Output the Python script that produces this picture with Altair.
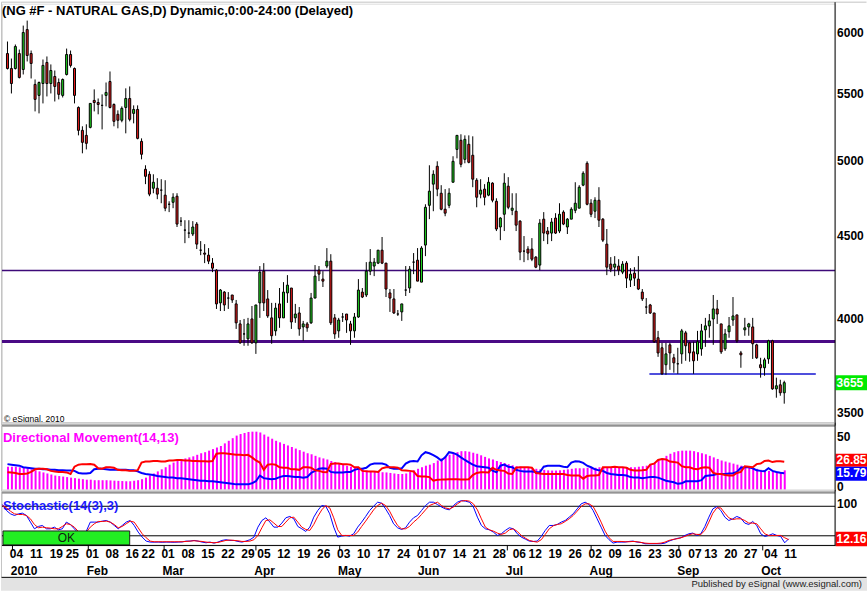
import altair as alt
import pandas as pd

FONT = "Liberation Sans"

# ---------------- data ----------------
# daily bars, bar 0 = 29 Dec 2009, bar 3 = 4 Jan 2010 ... bar 197 = 11 Oct 2010
opens = [
    5824, 5702, 5702, 5824, 5694, 6025, 5824, 5575, 5489, 5582,
    5751, 5582, 5638, 5590, 5489, 5654, 5816, 5702, 5396, 5224,
    5187, 5246, 5450, 5434, 5412, 5489, 5598, 5419, 5344, 5299,
    5396, 5465, 5351, 5381, 5143, 4944, 4909, 4813, 4813, 4800,
    4766, 4705, 4718, 4759, 4594, 4536, 4517, 4511, 4575, 4409,
    4391, 4378, 4329, 4286, 4092, 4155, 4120, 4138, 4086, 3972,
    3916, 3889, 4000, 3867, 4092, 4280, 4115, 4006, 3933, 4086,
    4006, 4150, 4179, 4006, 4034, 3955, 3972, 3978, 4120, 4286,
    4232, 4311, 4341, 4006, 3933, 4011, 4028, 3972, 3933, 4011,
    4155, 4138, 4280, 4311, 4329, 4409, 4329, 4150, 4115, 4028,
    4040, 4167, 4179, 4335, 4347, 4214, 4441, 4698, 4841, 4965,
    4779, 4672, 4698, 4854, 5085, 5151, 5014, 5122, 5043, 4868,
    4773, 4807, 4766, 4848, 4725, 4556, 4639, 4827, 4665, 4659,
    4594, 4403, 4416, 4416, 4366, 4317, 4607, 4530, 4517, 4614,
    4530, 4653, 4556, 4607, 4665, 4679, 4834, 4986, 4712, 4659,
    4732, 4607, 4447, 4323, 4304, 4311, 4274, 4329, 4226, 4268,
    4232, 4155, 4068, 4080, 4034, 3895, 3840, 3749, 3856, 3786,
    3754, 3807, 3922, 3867, 3818, 3807, 3834, 3939, 3961, 4000,
    4057, 3972, 3834, 3928, 3994, 4023, 3812, 3939, 3955, 3955,
    3856, 3749, 3733, 3780, 3878, 3623, 3644, 3603,
]
highs = [
    5924, 5783, 5899, 5857, 6059, 6102, 5849, 5614, 5598, 5775,
    5800, 5735, 5686, 5622, 5622, 5865, 5849, 5710, 5404, 5254,
    5269, 5427, 5536, 5465, 5497, 5590, 5678, 5427, 5374, 5404,
    5544, 5559, 5412, 5412, 5165, 4972, 4930, 4909, 4882, 4875,
    4868, 4725, 4779, 4779, 4620, 4600, 4600, 4594, 4588, 4466,
    4447, 4422, 4360, 4292, 4173, 4161, 4155, 4138, 4109, 3994,
    4000, 4006, 4074, 4080, 4311, 4329, 4167, 4092, 4092, 4179,
    4214, 4256, 4179, 4086, 4068, 3989, 3983, 4150, 4317, 4311,
    4280, 4422, 4384, 4028, 4006, 4034, 4028, 3989, 4034, 4232,
    4179, 4335, 4416, 4360, 4409, 4492, 4329, 4173, 4173, 4051,
    4086, 4311, 4311, 4391, 4422, 4434, 4705, 4972, 4937, 5000,
    4834, 4807, 4813, 5036, 5187, 5195, 5187, 5187, 5180, 4882,
    4875, 4841, 4889, 4854, 4745, 4620, 4916, 4889, 4779, 4779,
    4600, 4498, 4434, 4485, 4372, 4607, 4653, 4556, 4614, 4646,
    4712, 4665, 4614, 4685, 4854, 4834, 4930, 5000, 4739, 4752,
    4820, 4614, 4543, 4366, 4372, 4353, 4341, 4341, 4298, 4304,
    4372, 4173, 4120, 4086, 4034, 3933, 3867, 3867, 3867, 3807,
    3840, 3944, 3933, 3873, 3873, 3933, 3972, 4006, 4028, 4138,
    4109, 3972, 3944, 4011, 4126, 4023, 3823, 4006, 3978, 4006,
    3862, 3786, 3786, 3884, 3884, 3681, 3670, 3665,
]
lows = [
    5694, 5504, 5694, 5622, 5654, 5759, 5622, 5366, 5351, 5427,
    5481, 5504, 5442, 5458, 5473, 5646, 5710, 5427, 5187, 5057,
    5085, 5239, 5366, 5344, 5231, 5404, 5389, 5254, 5239, 5284,
    5202, 5291, 5276, 5158, 5014, 4841, 4759, 4779, 4739, 4712,
    4659, 4653, 4679, 4556, 4562, 4453, 4485, 4498, 4416, 4378,
    4329, 4323, 4274, 4057, 4045, 4045, 4057, 4092, 3944, 3862,
    3851, 3851, 3862, 3807, 4006, 4045, 4006, 3862, 3906, 3950,
    4006, 4092, 3944, 3978, 3906, 3878, 3928, 3972, 4120, 4220,
    4185, 4298, 3966, 3889, 3895, 3983, 3922, 3856, 3895, 4006,
    4120, 4126, 4256, 4250, 4323, 4323, 4126, 4040, 4028, 4017,
    3989, 4132, 4150, 4262, 4220, 4214, 4372, 4607, 4659, 4759,
    4665, 4626, 4679, 4854, 5021, 4958, 4986, 4986, 4820, 4685,
    4745, 4698, 4759, 4718, 4530, 4472, 4530, 4672, 4633, 4530,
    4347, 4335, 4347, 4341, 4298, 4286, 4466, 4447, 4466, 4511,
    4517, 4568, 4511, 4607, 4646, 4679, 4827, 4698, 4620, 4614,
    4556, 4460, 4256, 4274, 4250, 4256, 4262, 4179, 4185, 4191,
    4167, 4103, 4028, 4028, 3867, 3791, 3696, 3696, 3722, 3707,
    3701, 3754, 3770, 3765, 3701, 3770, 3797, 3845, 3895, 3856,
    3972, 3807, 3823, 3895, 3961, 3867, 3733, 3906, 3906, 3780,
    3780, 3681, 3691, 3754, 3618, 3578, 3588, 3548,
]
closes = [
    5702, 5582, 5882, 5630, 6000, 5808, 5743, 5458, 5590, 5727,
    5582, 5686, 5559, 5497, 5614, 5816, 5727, 5489, 5224, 5136,
    5129, 5427, 5434, 5419, 5412, 5512, 5396, 5291, 5299, 5389,
    5465, 5306, 5381, 5165, 5050, 4895, 4773, 4854, 4773, 4800,
    4679, 4705, 4752, 4575, 4594, 4536, 4517, 4556, 4447, 4409,
    4384, 4341, 4298, 4086, 4167, 4080, 4120, 4109, 3978, 3867,
    3916, 3972, 3867, 4080, 4274, 4092, 4017, 3906, 4062, 4006,
    4155, 4196, 3983, 4028, 3944, 3972, 3950, 4120, 4250, 4262,
    4220, 4341, 3978, 3916, 3994, 4011, 3994, 3933, 4011, 4167,
    4126, 4280, 4335, 4335, 4409, 4329, 4173, 4120, 4034, 4028,
    4086, 4167, 4292, 4335, 4220, 4422, 4685, 4793, 4909, 4807,
    4672, 4646, 4779, 5000, 5187, 4979, 5158, 4993, 4875, 4752,
    4800, 4752, 4854, 4732, 4543, 4614, 4848, 4685, 4679, 4568,
    4397, 4403, 4391, 4353, 4304, 4581, 4517, 4511, 4588, 4517,
    4639, 4575, 4607, 4672, 4712, 4820, 4916, 4705, 4639, 4732,
    4600, 4472, 4304, 4292, 4323, 4286, 4323, 4238, 4262, 4238,
    4173, 4115, 4068, 4034, 3873, 3812, 3701, 3807, 3812, 3759,
    3754, 3933, 3851, 3812, 3770, 3873, 3933, 3961, 3989, 4057,
    4028, 3818, 3916, 3961, 4017, 3878, 3802, 3950, 3972, 3862,
    3786, 3733, 3775, 3878, 3623, 3639, 3603, 3655,
]

plus_di = [
    24.5, 24, 23.5, 23, 21.5, 21, 20.5, 20, 20, 19.5,
    19.5, 19, 19, 18.5, 18.5, 18.3, 18.3, 18, 16, 15.5,
    15.5, 16, 19.5, 20, 20, 19.5, 19, 19, 19, 19,
    19, 18.5, 18.5, 17.5, 16, 15, 14.5, 14, 13, 12.5,
    12, 11.5, 11.5, 11, 11, 10.5, 10, 9.5, 9, 8.5,
    8.5, 8, 8, 7.5, 7, 6.5, 6, 5.5, 5, 5,
    5, 5, 6, 8, 13.5, 11, 10.5, 10, 10.5, 12,
    13, 13, 12.5, 12, 12, 11.5, 12, 16, 18, 20,
    20.5, 20, 17, 16.5, 16.5, 16.5, 17, 17, 19, 20,
    20, 21, 24, 25, 25, 25, 24, 21, 20, 20,
    20.5, 25, 27, 27.5, 27, 33, 36, 35, 33.2, 31,
    28, 31, 36, 35.3, 33.7, 31, 28.5, 26.3, 24, 22.5,
    22, 21.5, 21, 18.3, 16.7, 23, 24, 22, 21.5, 19,
    18, 17.5, 17.5, 17.5, 17, 16.7, 22, 23, 23, 23,
    23, 22, 21.5, 26, 27.3, 27, 25.7, 23, 21.5, 19.5,
    18.5, 18, 16, 15, 14.5, 14, 14, 13.5, 12, 11.5,
    11.5, 11, 11.5, 12, 12, 11.5, 10, 8.5, 7.7, 7,
    5.5, 6, 8, 8, 8, 8, 9, 13, 13.5, 14,
    15, 15, 15, 15.5, 15.7, 17, 21, 21.5, 21.5, 20.5,
    18.5, 18, 17.6, 20.5, 18, 17, 16.3, 15.79,
]
minus_di = [
    16.7, 16.5, 16, 15, 15, 15.5, 17, 19.5, 20, 20,
    19.5, 18, 17.5, 17, 17, 16.5, 15, 22, 24, 24.5,
    24.5, 24.7, 24, 20.5, 20, 21.5, 21.5, 21, 19, 18.5,
    18.5, 18, 18, 18.5, 26, 27, 27, 27.5, 27.5, 27,
    27, 28, 28, 28.5, 28.5, 28, 28, 27.5, 27.5, 27.3,
    27.3, 27, 27.5, 34.5, 35, 35, 34.5, 34, 33.5, 33.5,
    33, 33.5, 31, 28, 26, 19, 24, 24.5, 24, 21.5,
    21, 21, 19.5, 19.5, 19, 21.5, 21.5, 21, 18.5, 18,
    17, 16.7, 24.7, 25, 25, 24.5, 24.5, 24, 21.5, 21.5,
    18, 17.6, 17.5, 17.5, 17, 20.5, 21.5, 21.5, 21.5, 21,
    18.5, 18.3, 18, 17.5, 13, 12.5, 12.5, 12, 8.5, 9.5,
    9.6, 9.8, 10, 10, 10, 9.8, 9.6, 10, 14, 16,
    16.7, 16.7, 16.5, 21, 19, 18.3, 18, 15.5, 15, 21,
    21.5, 21.5, 21.5, 21, 16, 15.5, 15, 15, 15, 15,
    15, 15, 14, 13.5, 13.5, 13.5, 10.5, 13, 13.5, 13.5,
    14, 21.5, 21.5, 21.5, 22, 21.5, 21.5, 21, 19, 18.3,
    18.3, 18.5, 19, 24, 25, 28.5, 29.5, 29, 27, 26.5,
    26, 22.5, 21.5, 21.5, 20, 19.5, 21, 21.5, 21, 16,
    15, 15, 14, 13.5, 13.5, 16, 17, 22.5, 22, 21.5,
    24.5, 25, 27.5, 28, 26.5, 27.3, 27.3, 26.85,
]
adx = [
    22, 22, 22, 21.5, 21, 20.5, 19.5, 18.5, 17.5, 16.5,
    15.5, 14.5, 13.5, 13, 12.5, 12, 11.5, 11, 10.5, 10,
    9.5, 9.5, 9, 9, 9, 9, 8.8, 8.6, 8.4, 8.2,
    8, 8, 8.5, 9, 10, 11.5, 13.5, 15.5, 17.5, 19.5,
    21.5, 24, 26, 27.5, 29, 30, 31, 32, 33.5, 35,
    36, 37.5, 39, 40.5, 42, 44.5, 47, 49.5, 52, 53.5,
    54.5, 55.5, 55.8, 55.8, 55, 53, 51, 49, 47, 45.5,
    44, 42.5, 41, 39.5, 38, 36.5, 35, 34, 32.5, 31,
    30, 29, 27.5, 26.5, 25.5, 24.5, 23, 22, 21, 20,
    19.5, 18.5, 18, 17.5, 17, 16.7, 16.5, 16, 15.5, 15,
    15, 15.5, 17, 18.5, 20, 21.5, 23, 24, 25.5, 28,
    30, 32, 33.5, 35, 36, 37, 37, 36.5, 35.5, 34.5,
    33, 31.5, 30, 29, 27.5, 26.5, 25.5, 24.5, 23.5, 22.5,
    22, 21.5, 21, 20.5, 20, 19.5, 19, 18.5, 18.3, 18.3,
    18.5, 19, 19.5, 20, 20.5, 20.5, 20.5, 21, 21, 21,
    21.5, 21.5, 21.5, 21.5, 21.5, 21.5, 21.5, 21.5, 21.5, 21.5,
    22, 22.5, 23, 24, 26, 28, 30, 32.5, 34.5, 36,
    37, 37.5, 37.5, 37.5, 37, 36, 35, 34, 32.5, 31,
    29.5, 28, 27, 26, 25, 24, 23, 22, 21, 20.5,
    20, 19, 18.5, 18, 17.5, 17, 17, 18.5,
]
stoch_k = [
    83.5, 71.4, 64.6, 61.3, 64.6, 66, 61.3, 47.8, 34.2, 39,
    41, 34.2, 34.2, 37.6, 32.2, 34.2, 47.8, 43, 34.2, 25.5,
    20.7, 29.5, 47.8, 47.8, 47.8, 49.8, 51.1, 47.8, 41, 34.2,
    41, 47.8, 51.1, 41, 27.5, 17.3, 9.2, 7.2, 7, 7.2,
    6.8, 7.2, 7, 6.8, 7.2, 7.5, 9.2, 9.2, 10.6, 9.2,
    7.2, 5.8, 7.2, 5.1, 7.2, 10.6, 12, 10.6, 10.6, 8.5,
    7.2, 9.2, 12, 17.3, 37.6, 51.1, 56.6, 47.8, 37.6, 37.6,
    45.8, 56.6, 59.3, 54.5, 39, 34.2, 28.8, 37.6, 57.9, 71.4,
    81.5, 80.2, 64.6, 37.6, 17.3, 19.4, 20.7, 19.4, 24.1, 37.6,
    47.8, 59.3, 71.4, 80.2, 88.3, 86.3, 74.7, 61.3, 44.4, 36.3,
    32.9, 36.3, 47.8, 56.6, 61.3, 71.4, 81.5, 88.3, 88.3, 83.5,
    78.5, 74.7, 72.7, 81.5, 88.3, 91.7, 90.4, 88.3, 78.5, 57.9,
    41, 34.2, 32.2, 27.5, 20.7, 24.1, 30.9, 36.3, 34.2, 24.1,
    17.3, 13.3, 9.2, 8.5, 9.2, 18.7, 30.9, 41, 41, 43,
    47.8, 51.1, 57.9, 64.6, 74.7, 84.9, 88.3, 83.5, 71.4, 54.5,
    37.6, 20.7, 12, 5.1, 7.2, 7.2, 7.2, 8.5, 9.2, 7.2,
    6.5, 3.8, 3.8, 3.8, 3.8, 3.8, 5.1, 9.2, 12, 14.6,
    16, 20.7, 24.1, 25.5, 20.7, 24.1, 39, 57.9, 74.7, 79.5,
    71.4, 57.9, 51.1, 54.5, 59.3, 55.9, 45.8, 43, 49.1, 41,
    24.1, 18.7, 20.7, 24.1, 20.7, 18.7, 5.8, 13.9,
]
stoch_d = [
    81.5, 76.7, 70, 64.6, 63.3, 63.3, 61.3, 54.5, 43, 36.3,
    37.6, 36.3, 35.6, 34.2, 34.2, 39, 44.4, 43, 37.6, 28.8,
    24.1, 27.5, 37.6, 44.4, 49.1, 49.1, 49.8, 47.8, 43, 36.3,
    39, 44.4, 49.8, 47.8, 36.3, 24.1, 16, 9.2, 7.9, 7.9,
    7.9, 7.9, 7.9, 7.9, 7.9, 7.9, 8.5, 9.2, 9.9, 9.2,
    8.5, 7.2, 6.5, 5.8, 6.5, 8.5, 10.6, 11.3, 10.6, 9.9,
    8.5, 8.5, 9.2, 12, 20.7, 36.3, 51.1, 52.4, 45.8, 39,
    39, 47.8, 56.6, 57.9, 47.8, 37.6, 32.9, 30.9, 43, 59.3,
    72.7, 81.5, 76.7, 56.6, 32.2, 20.7, 20.7, 20.7, 20.7, 27.5,
    39, 49.8, 61.3, 72.7, 81.5, 86.3, 81.5, 70, 54.5, 41,
    34.2, 34.2, 39, 47.8, 54.5, 63.3, 72.7, 81.5, 84.9, 88.3,
    81.5, 76.7, 74.7, 78.5, 84.9, 90.4, 91.7, 90.4, 84.9, 72.7,
    54.5, 37.6, 32.2, 29.5, 25.5, 22.8, 25.5, 32.2, 34.2, 28.8,
    20.7, 15.3, 10.6, 8.5, 7.2, 12, 22.8, 34.2, 40.3, 43,
    44.4, 49.1, 54.5, 61.3, 70, 79.5, 84.9, 84.9, 79.5, 64.6,
    47.8, 29.5, 16, 8.5, 8.5, 8.5, 7.9, 7.9, 8.5, 7.9,
    6.5, 5.1, 4.5, 4.5, 4.5, 5.1, 7.2, 10.6, 12.6, 13.9,
    16, 18.7, 22.1, 24.1, 22.8, 22.8, 30.9, 47.8, 66, 76.7,
    76.7, 66, 56.6, 53.2, 54.5, 54.5, 51.1, 45.8, 45.8, 44.4,
    34.2, 24.1, 20.7, 20.7, 20.7, 20.7, 16, 12.16,
]

day_labels = ["04", "11", "19", "25", "01", "08", "16", "22", "01", "08", "15", "22", "29",
              "05", "12", "19", "26", "03", "10", "17", "24", "01", "07", "14", "21", "28",
              "06", "12", "19", "26", "02", "09", "16", "23", "30", "07", "13", "20", "27",
              "04", "11"]
day_bars = [3, 8, 13, 17, 22, 27, 32, 36, 41, 46, 51, 56, 61,
            65, 70, 75, 80, 85, 90, 95, 100, 105, 109, 114, 119, 124,
            129, 133, 138, 143, 148, 153, 158, 163, 168, 173, 177, 182, 187,
            192, 197]
month_labels = ["2010", "Feb", "Mar", "Apr", "May", "Jun", "Jul", "Aug", "Sep", "Oct"]
month_bars = [3, 22, 41, 64, 85, 105, 127, 148, 170, 191]

price_ticks = [6000, 5500, 5000, 4500, 4000, 3500]
resistance = 4284
support_thick = 3874
support_blue = 3700
support_blue_from, support_blue_to = 162.8, 205.0
last_price = 3655
last_minus, last_plus = 26.85, 15.79
last_stoch = 12.16

title = "(NG #F - NATURAL GAS,D) Dynamic,0:00-24:00 (Delayed)"

# ---------------- layout constants ----------------
W = 835
H1, H2, H3 = 423, 66, 54
GREEN, RED = "#1fd31f", "#e31b1b"

xs = alt.Scale(domain=[-0.125, 208.625], nice=False, zero=False)
ys_p = alt.Scale(type="log", domain=[3439, 6250], nice=False, zero=False)
ys_dm = alt.Scale(domain=[-1.923, 61.538], nice=False, zero=False)
ys_st = alt.Scale(domain=[0.41, 109.94], nice=False, zero=False)

one = pd.DataFrame({"k": [0]})


def X(f):
    return alt.X(f, type="quantitative", scale=xs, axis=None)


def hrule(color, x, x2, y, width=1.0):
    return alt.Chart(one).mark_rule(color=color, strokeWidth=width).encode(
        x=alt.value(x), x2=alt.value(x2), y=alt.value(y))


def vrule(color, x, y, y2, width=1.0):
    return alt.Chart(one).mark_rule(color=color, strokeWidth=width).encode(
        x=alt.value(x), y=alt.value(y), y2=alt.value(y2))


def box(color, x, x2, y, y2, stroke=None):
    kw = dict(color=color)
    if stroke:
        kw.update(stroke=stroke, strokeWidth=1)
    return alt.Chart(one).mark_rect(**kw).encode(
        x=alt.value(x), x2=alt.value(x2), y=alt.value(y), y2=alt.value(y2))


def label(text, x, y, size=12, weight="bold", color="black", align="left"):
    return alt.Chart(pd.DataFrame({"t": [text]})).mark_text(
        align=align, baseline="middle", font=FONT, fontSize=size,
        fontWeight=weight, color=color).encode(
        x=alt.value(x), y=alt.value(y), text="t:N")


def separator(y0):
    return (box("#b9b9b9", 0, W, y0, y0 + 3.5)
            + hrule("#e4e4e4", 0, W, y0 + 0.5)
            + hrule("#777777", 0, W, y0 + 3.2))


def value_box(val, color, scale, up=7, down=7, dy=0, text=None):
    d = pd.DataFrame({"v": [val], "t": [text if text else f"{val:.2f}"]})
    b = alt.Chart(d).mark_rect(color=color, yOffset=-up, y2Offset=down).encode(
        x=alt.value(835.5), x2=alt.value(867),
        y=alt.Y("v:Q", scale=scale, axis=None), y2=alt.Y2("v:Q"))
    t = alt.Chart(d).mark_text(
        align="left", baseline="middle", font=FONT, fontSize=12, fontWeight="bold",
        color="white", dy=dy).encode(x=alt.value(836.5), y=alt.Y("v:Q", scale=scale, axis=None), text="t:N")
    return b + t


def scale_label(val, text, scale, dy):
    d = pd.DataFrame({"v": [val], "t": [text]})
    return alt.Chart(d).mark_text(
        align="left", baseline="middle", font=FONT, fontSize=12, fontWeight="bold",
        color="black", dy=dy).encode(x=alt.value(837), y=alt.Y("v:Q", scale=scale, axis=None), text="t:N")


# ---------------- price panel ----------------
candles = pd.DataFrame({"i": range(len(closes)), "o": opens, "h": highs,
                        "l": lows, "c": closes})
candles["fill"] = [GREEN if c >= o else RED for o, c in zip(opens, closes)]

wicks = alt.Chart(candles).mark_rule(color="black", strokeWidth=1).encode(
    x=X("i"), y=alt.Y("l:Q", scale=ys_p, axis=None), y2="h:Q")
bodies = alt.Chart(candles).mark_bar(size=2, stroke="black", strokeWidth=1).encode(
    x=X("i"), y=alt.Y("o:Q", scale=ys_p, axis=None), y2="c:Q",
    color=alt.Color("fill:N", scale=None))

res_line = alt.Chart(pd.DataFrame({"p": [resistance]})).mark_rule(
    color="#3d0a78", strokeWidth=1.3).encode(
    y=alt.Y("p:Q", scale=ys_p, axis=None), x=alt.value(0), x2=alt.value(W))
sup_line = alt.Chart(pd.DataFrame({"p": [support_thick]})).mark_rule(
    color="#4a0a85", strokeWidth=3).encode(
    y=alt.Y("p:Q", scale=ys_p, axis=None), x=alt.value(0), x2=alt.value(W))
blue_line = alt.Chart(pd.DataFrame({"a": [support_blue_from], "b": [support_blue_to],
                                    "p": [support_blue]})).mark_rule(
    color="#1515d0", strokeWidth=1.5).encode(
    x=X("a"), x2="b:Q", y=alt.Y("p:Q", scale=ys_p, axis=None))

pt = pd.DataFrame({"p": price_ticks, "t": [str(v) for v in price_ticks]})
price_labels = alt.Chart(pt).mark_text(
    align="left", baseline="middle", font=FONT, fontSize=12, fontWeight="bold",
    color="black").encode(x=alt.value(837), y=alt.Y("p:Q", scale=ys_p, axis=None), text="t:N")

price = alt.layer(
    hrule("#c4c4c4", -0.5, 866.5, -1.5),
    vrule("#c4c4c4", -0.5, -1.5, H1),
    res_line, sup_line, blue_line, wicks, bodies,
    price_labels,
    value_box(last_price, "#00ea00", ys_p, 7.5, 7.5, 0, str(last_price)),
    label(title, 0, 7.5, size=13),
    label("\u00a9 eSignal, 2010", 2, 416, size=8.5, weight="normal"),
    hrule("#c8c8c8", 0, W, 419.8),
    vrule("black", 835, -1.5, H1),
).properties(width=W, height=H1)

# ---------------- directional movement panel ----------------
adx_df = pd.DataFrame({"i": range(len(adx)), "v": adx})
pdi_df = pd.DataFrame({"i": range(len(plus_di)), "v": plus_di})
mdi_df = pd.DataFrame({"i": range(len(minus_di)), "v": minus_di})

adx_bars = alt.Chart(adx_df).mark_bar(size=2, color="#ff00ff", xOffset=0.5).encode(
    x=X("i"), y=alt.Y("v:Q", scale=ys_dm, axis=None), y2=alt.datum(0))
pdi_line = alt.Chart(pdi_df).mark_line(color="#0000ff", strokeWidth=2).encode(
    x=X("i"), y=alt.Y("v:Q", scale=ys_dm, axis=None))
mdi_line = alt.Chart(mdi_df).mark_line(color="#ff0000", strokeWidth=2).encode(
    x=X("i"), y=alt.Y("v:Q", scale=ys_dm, axis=None))

dm = alt.layer(
    vrule("#c4c4c4", -0.5, 0, H2),
    adx_bars, pdi_line, mdi_line,
    label("Directional Movement(14,13)", 1, 12, size=13, color="#ff00ff"),
    separator(-3),
    scale_label(50, "50", ys_dm, -1),
    scale_label(0, "0", ys_dm, -2.5),
    value_box(last_minus, "#ff0000", ys_dm, 8, 5, -1.8),
    value_box(last_plus, "#0000ff", ys_dm, 6.5, 7.5, -0.5),
    vrule("black", 835, -3, H2),
).properties(width=W, height=H2)

# ---------------- stochastic panel ----------------
k_df = pd.DataFrame({"i": range(len(stoch_k)), "v": stoch_k})
d_df = pd.DataFrame({"i": range(len(stoch_d)), "v": stoch_d})
levels = alt.Chart(pd.DataFrame({"v": [80, 20]})).mark_rule(color="black", strokeWidth=1).encode(
    y=alt.Y("v:Q", scale=ys_st, axis=None), x=alt.value(0), x2=alt.value(W))
k_line = alt.Chart(k_df).mark_line(color="#0000ff", strokeWidth=1).encode(
    x=X("i"), y=alt.Y("v:Q", scale=ys_st, axis=None))
d_line = alt.Chart(d_df).mark_line(color="#ff0000", strokeWidth=1).encode(
    x=X("i"), y=alt.Y("v:Q", scale=ys_st, axis=None))

days = pd.DataFrame({"b": day_bars, "t": day_labels})
day_text = alt.Chart(days).mark_text(
    align="center", baseline="middle", font=FONT, fontSize=12, fontWeight="bold",
    color="black", dx=2).encode(x=X("b"), y=alt.value(63), text="t:N")
months = pd.DataFrame({"b": month_bars, "t": month_labels})
month_text = alt.Chart(months).mark_text(
    align="left", baseline="middle", font=FONT, fontSize=12, fontWeight="bold",
    color="black", dx=-3.6).encode(x=X("b"), y=alt.value(80), text="t:N")
months["tick"] = [b - 0.5 for b in month_bars]
month_ticks = alt.Chart(months).mark_rule(color="black", strokeWidth=1).encode(
    x=X("tick"), y=alt.value(54), y2=alt.value(59))

stoch = alt.layer(
    vrule("#c4c4c4", -0.5, 0, 86),
    levels,
    label("Stochastic(14(3),3)", 1, 14, size=13, color="#1a1aff"),
    k_line, d_line,
    box("#22ee22", 1, 128, 39.5, 53.5, stroke="#202020"),
    label("OK", 64.5, 46.5, size=12, weight="normal", color="#102010", align="center"),
    separator(-1.8),
    scale_label(80, "100", ys_st, -2),
    value_box(last_stoch, "#ff0000", ys_st, 8, 6.5, -1),
    vrule("black", 835, -1.8, H3),
    hrule("black", 0, 835.5, 54),
    month_ticks, day_text, month_text,
    box("#e3e3e3", -1, 867, 86.5, 99.5),
    hrule("black", -0.5, 866.5, 86),
    label("Published by eSignal (www.esignal.com)", 862, 93, size=9.5, weight="normal",
          color="#222222", align="right"),
).properties(width=W, height=H3)

chart = alt.vconcat(price, dm, stoch, spacing=0, bounds="flush").resolve_scale(
    x="independent", y="independent").properties(
    padding={"left": 0, "top": 0, "right": 0, "bottom": 0}).configure_view(
    stroke=None).configure(background="white")

chart.save("out.html", embed_options={"renderer": "svg", "actions": False})
